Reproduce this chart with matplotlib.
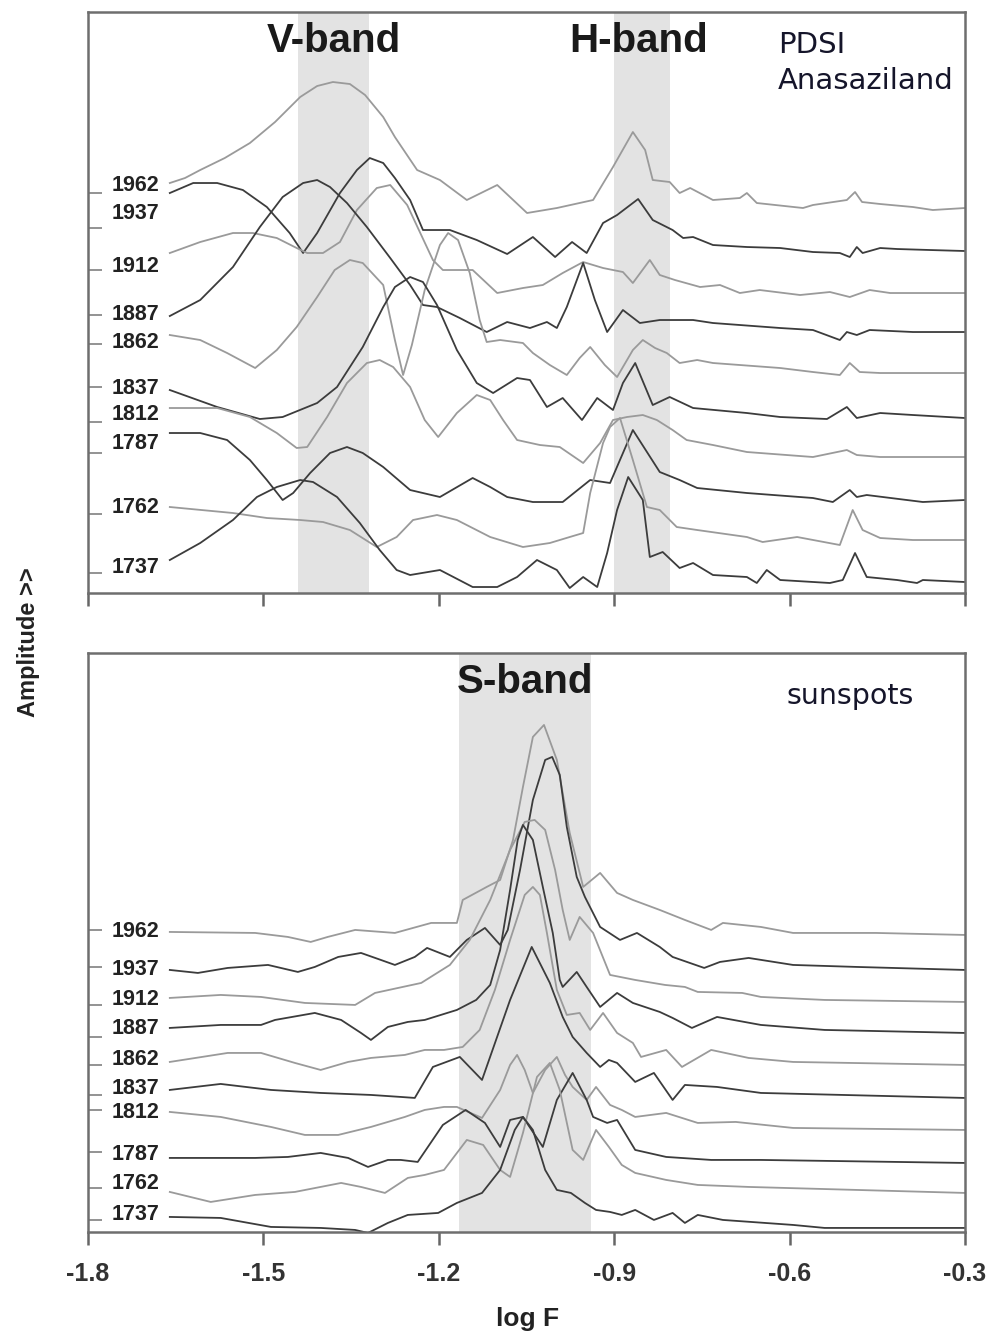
import matplotlib
matplotlib.use("Agg")
import matplotlib.pyplot as plt

plt.rcParams['font.family'] = ['Liberation Sans', 'DejaVu Sans']
plt.rcParams['axes.unicode_minus'] = False

##########
# data: stacked spectra (log F vs amplitude, arbitrary units, offsets included)
##########

years = [1962, 1937, 1912, 1887, 1862, 1837, 1812, 1787, 1762, 1737]

# --- PDSI Anasaziland (top panel)
pdsi_1962_f = [-1.660, -1.634, -1.608, -1.566, -1.523, -1.480, -1.437, -1.408, -1.381, -1.352,
               -1.326, -1.295, -1.275, -1.237, -1.198, -1.152, -1.100, -1.049, -0.998, -0.936,
               -0.902, -0.868, -0.847, -0.834, -0.805, -0.788, -0.770, -0.731, -0.685, -0.673,
               -0.656, -0.577, -0.560, -0.502, -0.488, -0.476, -0.445, -0.389, -0.355, -0.300]
pdsi_1962_a = [410, 415, 423, 435, 450, 471, 496, 507, 511, 509,
               498, 476, 456, 423, 413, 393, 408, 380, 385, 393,
               426, 461, 443, 413, 411, 400, 405, 393, 395, 400,
               390, 385, 388, 393, 401, 391, 389, 386, 383, 385]

pdsi_1937_f = [-1.660, -1.620, -1.579, -1.535, -1.494, -1.455, -1.432, -1.408, -1.369, -1.340,
               -1.318, -1.295, -1.275, -1.249, -1.227, -1.181, -1.135, -1.083, -1.039, -1.001,
               -0.972, -0.947, -0.919, -0.895, -0.859, -0.834, -0.800, -0.782, -0.765, -0.731,
               -0.673, -0.616, -0.560, -0.514, -0.497, -0.485, -0.475, -0.445, -0.416, -0.360,
               -0.300]
pdsi_1937_a = [400, 410, 410, 403, 386, 360, 340, 360, 400, 423,
               435, 430, 415, 393, 363, 363, 353, 339, 356, 336,
               351, 340, 370, 378, 394, 373, 363, 355, 356, 348,
               346, 345, 341, 340, 336, 346, 340, 345, 344, 343,
               342]

pdsi_1912_f = [-1.660, -1.608, -1.552, -1.518, -1.477, -1.443, -1.425, -1.398, -1.369, -1.340,
               -1.306, -1.283, -1.254, -1.210, -1.193, -1.142, -1.100, -1.056, -1.022, -0.988,
               -0.953, -0.919, -0.885, -0.868, -0.839, -0.822, -0.796, -0.753, -0.719, -0.685,
               -0.651, -0.582, -0.531, -0.497, -0.463, -0.428, -0.300]
pdsi_1912_a = [340, 351, 360, 360, 355, 345, 340, 340, 351, 383,
               405, 408, 388, 333, 323, 323, 300, 305, 308, 320,
               331, 325, 321, 310, 333, 318, 313, 306, 308, 300,
               303, 298, 301, 296, 303, 300, 300]

pdsi_1887_f = [-1.660, -1.608, -1.552, -1.506, -1.467, -1.432, -1.408, -1.386, -1.357, -1.323,
               -1.283, -1.249, -1.227, -1.203, -1.164, -1.118, -1.083, -1.044, -1.015, -0.998,
               -0.981, -0.953, -0.933, -0.912, -0.885, -0.856, -0.822, -0.765, -0.731, -0.616,
               -0.560, -0.514, -0.502, -0.485, -0.463, -0.389, -0.300]
pdsi_1887_a = [277, 293, 326, 366, 396, 410, 413, 406, 390, 366,
               335, 308, 288, 286, 275, 261, 271, 265, 271, 265,
               286, 330, 293, 261, 283, 270, 273, 273, 270, 265,
               263, 253, 261, 258, 263, 261, 261]

pdsi_1862_f = [-1.660, -1.608, -1.562, -1.514, -1.477, -1.443, -1.408, -1.378, -1.352, -1.330,
               -1.295, -1.275, -1.261, -1.246, -1.224, -1.198, -1.184, -1.167, -1.147, -1.130,
               -1.118, -1.095, -1.056, -1.039, -1.010, -0.981, -0.959, -0.941, -0.916, -0.895,
               -0.868, -0.851, -0.830, -0.810, -0.788, -0.758, -0.731, -0.616, -0.560, -0.514,
               -0.497, -0.480, -0.445, -0.300]
pdsi_1862_a = [258, 253, 240, 225, 243, 266, 296, 323, 333, 330,
               308, 253, 218, 248, 303, 348, 360, 353, 320, 273,
               251, 253, 250, 240, 228, 218, 235, 246, 228, 216,
               243, 253, 245, 240, 230, 233, 230, 225, 221, 218,
               230, 221, 220, 220]

pdsi_1837_f = [-1.660, -1.579, -1.506, -1.467, -1.408, -1.374, -1.330, -1.295, -1.275, -1.249,
               -1.227, -1.203, -1.169, -1.135, -1.107, -1.066, -1.044, -1.015, -0.988, -0.955,
               -0.929, -0.902, -0.885, -0.864, -0.834, -0.805, -0.765, -0.673, -0.616, -0.536,
               -0.502, -0.485, -0.445, -0.389, -0.300]
pdsi_1837_a = [203, 186, 174, 176, 190, 206, 246, 286, 306, 316,
               311, 288, 243, 210, 200, 215, 213, 186, 195, 173,
               195, 183, 210, 230, 188, 196, 185, 180, 176, 174,
               186, 175, 180, 178, 175]

pdsi_1812_f = [-1.660, -1.579, -1.523, -1.477, -1.443, -1.425, -1.391, -1.357, -1.323, -1.301,
               -1.278, -1.249, -1.224, -1.201, -1.169, -1.135, -1.112, -1.090, -1.066, -1.027,
               -0.993, -0.953, -0.924, -0.902, -0.878, -0.851, -0.827, -0.800, -0.776, -0.731,
               -0.673, -0.560, -0.502, -0.485, -0.445, -0.300]
pdsi_1812_a = [185, 185, 176, 160, 145, 146, 176, 210, 230, 233,
               226, 206, 173, 156, 180, 198, 193, 173, 153, 148,
               146, 130, 150, 173, 176, 178, 173, 163, 153, 148,
               141, 136, 143, 138, 136, 136]

pdsi_1787_f = [-1.660, -1.608, -1.562, -1.523, -1.494, -1.467, -1.449, -1.420, -1.386, -1.357,
               -1.330, -1.295, -1.249, -1.198, -1.142, -1.112, -1.083, -1.039, -0.988, -0.941,
               -0.907, -0.868, -0.822, -0.788, -0.758, -0.673, -0.560, -0.526, -0.497, -0.485,
               -0.468, -0.372, -0.300]
pdsi_1787_a = [160, 160, 153, 133, 113, 93, 100, 120, 140, 146,
               140, 126, 103, 96, 115, 106, 96, 91, 91, 113,
               110, 163, 121, 113, 105, 100, 95, 91, 103, 96,
               98, 91, 93]

pdsi_1762_f = [-1.660, -1.552, -1.494, -1.437, -1.398, -1.352, -1.306, -1.272, -1.244, -1.203,
               -1.169, -1.112, -1.056, -1.010, -0.976, -0.953, -0.941, -0.919, -0.907, -0.890,
               -0.868, -0.844, -0.822, -0.793, -0.758, -0.673, -0.646, -0.587, -0.514, -0.492,
               -0.475, -0.445, -0.389, -0.300]
pdsi_1762_a = [86, 80, 75, 73, 71, 63, 46, 56, 73, 78,
               73, 56, 46, 50, 56, 60, 100, 150, 166, 175,
               133, 86, 83, 66, 63, 56, 51, 56, 48, 83,
               63, 55, 53, 53]

pdsi_1737_f = [-1.660, -1.608, -1.552, -1.511, -1.477, -1.437, -1.415, -1.374, -1.335, -1.301,
               -1.272, -1.249, -1.198, -1.142, -1.100, -1.066, -1.032, -0.998, -0.976, -0.953,
               -0.929, -0.912, -0.895, -0.876, -0.851, -0.839, -0.817, -0.788, -0.765, -0.731,
               -0.673, -0.656, -0.639, -0.616, -0.531, -0.509, -0.488, -0.468, -0.416, -0.382,
               -0.372, -0.300]
pdsi_1737_a = [33, 50, 73, 96, 106, 113, 111, 96, 70, 43,
               23, 18, 23, 6, 6, 16, 33, 23, 5, 16,
               6, 40, 83, 116, 93, 36, 41, 25, 30, 18,
               16, 10, 23, 13, 10, 13, 40, 16, 13, 10,
               13, 11]

# --- sunspots (bottom panel)
sun_1962_f = [-1.660, -1.514, -1.458, -1.419, -1.390, -1.343, -1.275, -1.213, -1.169, -1.159,
              -1.118, -1.095, -1.073, -1.056, -1.039, -1.020, -0.998, -0.976, -0.953, -0.924,
              -0.895, -0.868, -0.822, -0.779, -0.734, -0.714, -0.649, -0.594, -0.452, -0.300]
sun_1962_a = [300, 299, 295, 290, 295, 302, 299, 309, 309, 332,
              345, 352, 392, 445, 495, 507, 472, 399, 345, 359,
              339, 332, 322, 312, 302, 309, 305, 299, 299, 297]

sun_1937_f = [-1.660, -1.612, -1.561, -1.492, -1.441, -1.412, -1.372, -1.333, -1.299, -1.275,
              -1.241, -1.220, -1.181, -1.152, -1.121, -1.095, -1.082, -1.061, -1.039, -1.018,
              -1.006, -0.993, -0.981, -0.964, -0.950, -0.924, -0.890, -0.861, -0.822, -0.800,
              -0.746, -0.719, -0.670, -0.594, -0.485, -0.300]
sun_1937_a = [262, 259, 264, 267, 260, 265, 275, 279, 272, 267,
              275, 284, 275, 292, 304, 287, 302, 362, 432, 472,
              475, 457, 405, 355, 335, 305, 292, 299, 285, 275,
              264, 270, 274, 267, 265, 262]

sun_1912_f = [-1.660, -1.573, -1.504, -1.429, -1.343, -1.309, -1.230, -1.181, -1.147, -1.112,
              -1.078, -1.053, -1.036, -1.018, -1.001, -0.988, -0.976, -0.959, -0.936, -0.907,
              -0.864, -0.813, -0.779, -0.757, -0.681, -0.649, -0.540, -0.300]
sun_1912_a = [234, 237, 235, 229, 227, 239, 249, 267, 292, 332,
              382, 410, 412, 402, 362, 322, 292, 315, 299, 257,
              252, 247, 245, 240, 239, 235, 232, 230]

sun_1887_f = [-1.660, -1.573, -1.504, -1.480, -1.412, -1.367, -1.333, -1.316, -1.287, -1.253,
              -1.224, -1.169, -1.136, -1.112, -1.095, -1.078, -1.065, -1.056, -1.039, -1.022,
              -1.005, -0.993, -0.988, -0.964, -0.947, -0.924, -0.895, -0.868, -0.822, -0.800,
              -0.767, -0.724, -0.649, -0.540, -0.300]
sun_1887_a = [204, 207, 207, 212, 219, 212, 199, 192, 205, 210,
              212, 222, 232, 247, 282, 342, 392, 407, 392, 345,
              299, 252, 245, 260, 245, 225, 239, 229, 220, 214,
              204, 215, 207, 202, 199]

sun_1862_f = [-1.660, -1.561, -1.504, -1.446, -1.402, -1.355, -1.316, -1.258, -1.224, -1.191,
              -1.159, -1.130, -1.104, -1.078, -1.053, -1.039, -1.027, -1.015, -0.998, -0.981,
              -0.959, -0.941, -0.919, -0.895, -0.868, -0.854, -0.811, -0.784, -0.734, -0.670,
              -0.594, -0.300]
sun_1862_a = [170, 179, 179, 169, 162, 170, 174, 177, 182, 182,
              185, 202, 242, 292, 337, 345, 337, 299, 242, 217,
              219, 202, 219, 199, 189, 175, 182, 165, 182, 174,
              170, 167]

sun_1837_f = [-1.660, -1.573, -1.487, -1.402, -1.316, -1.265, -1.241, -1.210, -1.164, -1.126,
              -1.078, -1.041, -1.010, -0.988, -0.971, -0.947, -0.924, -0.909, -0.895, -0.864,
              -0.832, -0.800, -0.779, -0.724, -0.649, -0.300]
sun_1837_a = [142, 148, 142, 139, 137, 135, 134, 165, 175, 152,
              232, 285, 249, 215, 195, 179, 165, 172, 169, 150,
              159, 132, 147, 145, 139, 134]

sun_1812_f = [-1.660, -1.573, -1.487, -1.429, -1.372, -1.316, -1.258, -1.224, -1.191, -1.169,
              -1.126, -1.095, -1.078, -1.066, -1.053, -1.039, -1.018, -0.998, -0.984, -0.971,
              -0.947, -0.931, -0.907, -0.887, -0.864, -0.811, -0.757, -0.692, -0.594, -0.300]
sun_1812_a = [120, 115, 105, 97, 97, 105, 115, 122, 125, 125,
              114, 142, 167, 177, 162, 139, 162, 175, 157, 145,
              132, 145, 127, 122, 115, 119, 109, 110, 104, 102]

sun_1787_f = [-1.660, -1.514, -1.458, -1.402, -1.355, -1.321, -1.287, -1.265, -1.236, -1.193,
              -1.154, -1.121, -1.095, -1.078, -1.056, -1.022, -0.998, -0.971, -0.947, -0.936,
              -0.912, -0.895, -0.864, -0.811, -0.734, -0.649, -0.300]
sun_1787_a = [74, 74, 75, 79, 74, 65, 72, 72, 70, 107,
              122, 109, 85, 112, 115, 85, 132, 159, 132, 115,
              109, 112, 82, 75, 72, 72, 69]

sun_1762_f = [-1.660, -1.590, -1.514, -1.446, -1.367, -1.333, -1.292, -1.253, -1.224, -1.191,
              -1.152, -1.124, -1.095, -1.078, -1.056, -1.032, -1.010, -0.993, -0.971, -0.953,
              -0.931, -0.909, -0.887, -0.864, -0.811, -0.757, -0.670, -0.300]
sun_1762_a = [40, 30, 37, 40, 49, 45, 39, 54, 57, 62,
              92, 87, 62, 55, 99, 155, 169, 142, 82, 72,
              102, 85, 67, 59, 52, 47, 45, 39]

sun_1737_f = [-1.660, -1.573, -1.487, -1.402, -1.343, -1.321, -1.287, -1.253, -1.201, -1.169,
              -1.126, -1.095, -1.070, -1.056, -1.039, -1.018, -0.998, -0.974, -0.950, -0.931,
              -0.907, -0.887, -0.864, -0.832, -0.800, -0.779, -0.757, -0.714, -0.594, -0.540,
              -0.300]
sun_1737_a = [15, 14, 5, 4, 2, -1, 9, 17, 19, 29,
              39, 62, 102, 115, 102, 62, 42, 39, 29, 22,
              20, 17, 22, 12, 19, 9, 17, 12, 7, 4,
              4]

# frequency bands
pdsi_bands = [(-1.44, -1.32), (-0.90, -0.805)]
sun_bands = [(-1.165, -0.94)]

xticks = [-1.8, -1.5, -1.2, -0.9, -0.6, -0.3]

pdsi_curves = [(pdsi_1962_f, pdsi_1962_a), (pdsi_1937_f, pdsi_1937_a), (pdsi_1912_f, pdsi_1912_a),
               (pdsi_1887_f, pdsi_1887_a), (pdsi_1862_f, pdsi_1862_a), (pdsi_1837_f, pdsi_1837_a),
               (pdsi_1812_f, pdsi_1812_a), (pdsi_1787_f, pdsi_1787_a), (pdsi_1762_f, pdsi_1762_a),
               (pdsi_1737_f, pdsi_1737_a)]
sun_curves = [(sun_1962_f, sun_1962_a), (sun_1937_f, sun_1937_a), (sun_1912_f, sun_1912_a),
              (sun_1887_f, sun_1887_a), (sun_1862_f, sun_1862_a), (sun_1837_f, sun_1837_a),
              (sun_1812_f, sun_1812_a), (sun_1787_f, sun_1787_a), (sun_1762_f, sun_1762_a),
              (sun_1737_f, sun_1737_a)]

# layout: where the year labels / small left ticks sit
pdsi_label_y = [408, 380, 327, 279, 251, 205, 179, 150, 86, 26]
pdsi_tick_y = [400, 365, 323, 278, 249, 206, 171, 140, 79, 20]
sun_label_y = [300, 262, 232, 203, 172, 143, 119, 77, 48, 17]
sun_tick_y = [302, 265, 227, 195, 167, 137, 122, 80, 44, 12]

LIGHT = '#9a9a9a'
DARK = '#3c3c3c'


def draw_panel(ax, curves, bands, label_y, tick_y, ymax):
    for lo, hi in bands:
        ax.axvspan(lo, hi, color='#e3e3e3', lw=0, zorder=0)
    for i, (f, a) in enumerate(curves):
        ax.plot(f, a, color=LIGHT if i % 2 == 0 else DARK, lw=1.3, zorder=2,
                solid_joinstyle='round')
    for yr, y in zip(years, label_y):
        ax.text(-1.677, y, str(yr), ha='right', va='center', fontsize=15.5,
                fontweight='bold', color='#222222', zorder=3)
    ax.set_xlim(-1.8, -0.3)
    ax.set_ylim(0, ymax)
    ax.set_xticks(xticks)
    ax.set_xticklabels(['%.1f' % t for t in xticks], fontweight='bold')
    ax.set_yticks(tick_y)
    ax.set_yticklabels([])
    ax.tick_params(axis='y', direction='in', length=10, width=1.2, color='#808080')
    ax.tick_params(axis='x', direction='out', length=9, width=1.8, color='#666666',
                   pad=13, labelsize=18, labelcolor='#333333')
    for s in ax.spines.values():
        s.set_color('#6e6e6e')
        s.set_linewidth(1.8)


fig = plt.figure(figsize=(9.95, 13.35), dpi=100)
ax1 = fig.add_axes([0.0884, 0.5558, 0.8814, 0.4352])
ax2 = fig.add_axes([0.0884, 0.0772, 0.8814, 0.4337])

draw_panel(ax1, pdsi_curves, pdsi_bands, pdsi_label_y, pdsi_tick_y, 581)
draw_panel(ax2, sun_curves, sun_bands, sun_label_y, sun_tick_y, 579)
ax1.tick_params(labelbottom=False)

# band names and series names
ax1.text(-1.379, 541, 'V-band', ha='center', va='baseline', fontsize=29,
         fontweight='bold', color='#1a1a1a')
ax1.text(-0.858, 541, 'H-band', ha='center', va='baseline', fontsize=29,
         fontweight='bold', color='#1a1a1a')
ax1.text(-0.620, 540, 'PDSI', ha='left', va='baseline', fontsize=21,
         family='DejaVu Sans', color='#15152a')
ax1.text(-0.620, 504, 'Anasaziland', ha='left', va='baseline', fontsize=21,
         family='DejaVu Sans', color='#15152a')
ax2.text(-1.053, 539, 'S-band', ha='center', va='baseline', fontsize=29,
         fontweight='bold', color='#1a1a1a')
ax2.text(-0.605, 528, 'sunspots', ha='left', va='baseline', fontsize=20.5,
         family='DejaVu Sans', color='#15152a')

fig.text(0.530, 0.012, 'log F', ha='center', va='center', fontsize=19,
         fontweight='bold', color='#222222')
fig.text(0.029, 0.519, 'Amplitude >>', ha='center', va='center', rotation=90,
         fontsize=17, fontweight='bold', color='#222222')

fig.savefig('out.png', dpi=100)
